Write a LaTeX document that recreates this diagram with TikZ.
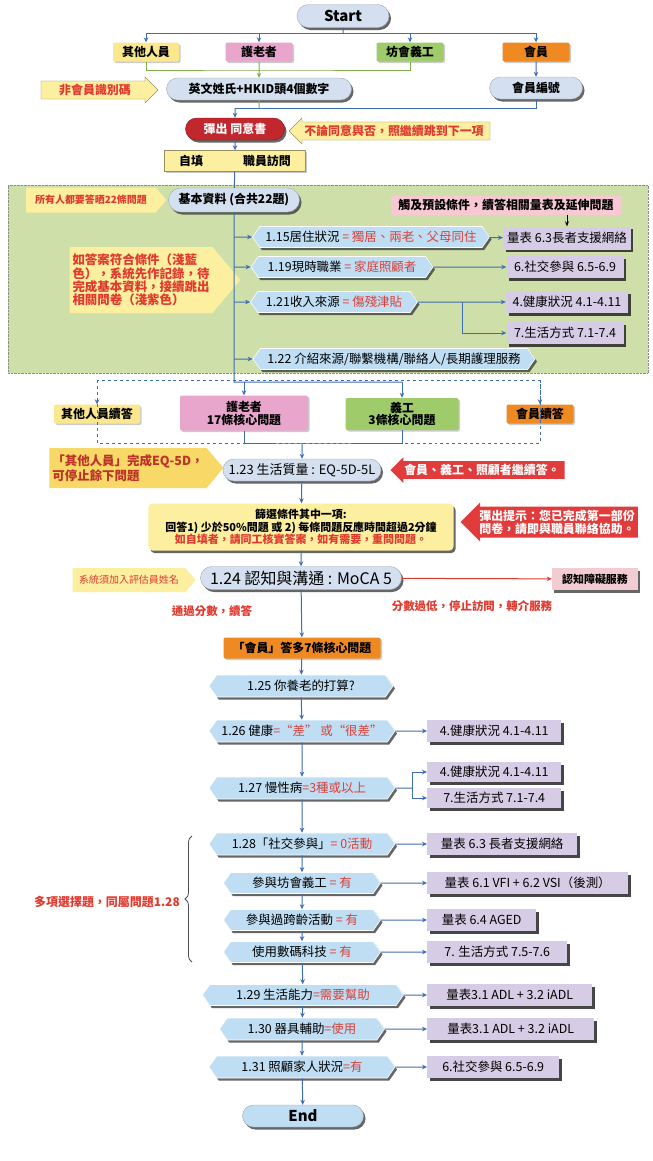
\documentclass[tikz,border=0pt]{standalone}
\usepackage{fontspec}
\setmainfont{Noto Sans CJK TC}
\usetikzlibrary{arrows.meta,positioning,calc,shapes.misc,shapes.symbols,shapes.arrows,shadows,decorations.pathreplacing}

\definecolor{pillblue}{HTML}{D4E0EF}
\definecolor{hexblue}{HTML}{BFDDF3}
\definecolor{lavender}{HTML}{D7CCE5}
\definecolor{roleyellow}{HTML}{FBE88E}
\definecolor{rolepink}{HTML}{E9A6CC}
\definecolor{rolegreen}{HTML}{9FCB6B}
\definecolor{roleorange}{HTML}{EF8A22}
\definecolor{noteyellow}{HTML}{FCEFA0}
\definecolor{notegold}{HTML}{F8D867}
\definecolor{notered}{HTML}{E03A2F}
\definecolor{alertred}{HTML}{E23B3B}
\definecolor{consentred}{HTML}{C1272D}
\definecolor{regiongreen}{HTML}{CFDFAA}
\definecolor{trigpink}{HTML}{F8C8D4}
\definecolor{cogpink}{HTML}{F3CBD2}
\definecolor{flowblue}{HTML}{3F6DB3}
\definecolor{linkgreen}{HTML}{7FAF4A}
\definecolor{valred}{HTML}{D8413A}

\newcommand{\qval}[1]{\textcolor{valred}{#1}}

\tikzset{
  shade/.style={drop shadow={shadow xshift=2bp,shadow yshift=-2.5bp,fill=black!80,opacity=.75}},
  pill/.style={rounded rectangle,fill=pillblue,draw=pillblue!75!black,line width=.4bp,shade,
    font=\bfseries\fontsize{12}{14}\selectfont,minimum height=22bp,inner sep=2bp},
  rolebox/.style={rectangle,rounded corners=2bp,minimum height=19bp,inner sep=2bp,
    font=\bfseries\fontsize{12}{14}\selectfont,
    drop shadow={shadow xshift=1.5bp,shadow yshift=-1.5bp,fill=black!40,opacity=.5}},
  hexq/.style={signal,signal to=east and west,signal pointer angle=110,fill=hexblue,
    draw=white,line width=.6bp,shade,minimum height=21bp,inner sep=2bp,
    font=\fontsize{12.5}{14}\selectfont},
  scalebox/.style={rectangle,fill=lavender,minimum height=22bp,inner xsep=4bp,
    font=\fontsize{12.5}{14}\selectfont,
    drop shadow={shadow xshift=2.5bp,shadow yshift=-2.5bp,fill=black!85,opacity=.85}},
  callsig/.style={signal,signal to=east,signal pointer angle=100,fill=noteyellow,
    text=notered,inner sep=3bp,font=\bfseries\fontsize{11}{13}\selectfont},
  callleft/.style={single arrow,shape border rotate=180,single arrow head extend=4bp,
    inner sep=3bp,font=\bfseries\fontsize{12}{14}\selectfont},
  callright/.style={single arrow,single arrow head extend=4bp,inner sep=3bp,
    fill=noteyellow,draw=noteyellow!60!black,line width=.4bp,text=notered,
    font=\bfseries\fontsize{12}{14}\selectfont},
  flowline/.style={draw=flowblue,line width=1bp},
  flowarrow/.style={flowline,-{Stealth[length=5bp,width=4.5bp]}},
  greenline/.style={draw=linkgreen,line width=1bp},
  dashline/.style={draw=flowblue,line width=.8bp,dashed},
  redtext/.style={text=notered,font=\bfseries\fontsize{11.5}{13}\selectfont},
}

\begin{document}
\begin{tikzpicture}[x=1bp,y=-1bp]
\useasboundingbox[fill=white] (0,0) rectangle (653,1161);

% start and the four kinds of respondent
\node[pill,font=\bfseries\fontsize{15}{17}\selectfont,minimum width=96bp,minimum height=23bp] (start) at (343,16) {Start};
\node[rolebox,fill=roleyellow,minimum width=66bp] (other) at (146,52) {其他人員};
\node[rolebox,fill=rolepink,minimum width=67bp] (carer) at (259,52) {護老者};
\node[rolebox,fill=rolegreen,minimum width=67bp] (volunteer) at (410,52) {坊會義工};
\node[rolebox,fill=roleorange,minimum width=67bp] (member) at (536,52) {會員};

\coordinate (topbus) at (343,33);
\draw[flowline] (start) -- (topbus);
\foreach \r in {other,carer,volunteer,member}
  \draw[flowarrow] (topbus) -| (\r);

% identification
\node[pill,minimum width=189bp] (hkid) at (259,89) {英文姓氏+HKID頭4個數字};
\node[callright,minimum height=117bp] (nonmember) at (95,90) {非會員識別碼};
\node[pill,minimum width=97bp] (memberno) at (536,88) {會員編號};

\coordinate (gbus) at (259,70);
\draw[greenline] (other) |- (gbus) -| (volunteer);
\draw[greenline,-{Stealth[length=5bp,width=4.5bp]}] (carer) -- (hkid);
\draw[flowarrow] (member) -- (memberno);

\coordinate (idbus) at (235,108);
\draw[flowline] (memberno) |- (idbus);
\draw[greenline] (hkid) -- (hkid |- idbus);

% consent
\node[pill,fill=consentred,draw=consentred!70!black,text=white,minimum width=103bp] (consent) at (235,129) {彈出 同意書};
\node[callleft,fill=noteyellow,draw=noteyellow!60!black,line width=.4bp,text=notered,minimum height=201bp] (consentnote) at (394,131) {不論同意與否，照繼續跳到下一項};
\node[rectangle,fill=noteyellow,draw=noteyellow!60!black,line width=.4bp,minimum width=141bp,minimum height=21bp,
  font=\bfseries\fontsize{12}{14}\selectfont,drop shadow={shadow xshift=1.5bp,shadow yshift=-1.5bp,fill=black!40,opacity=.5}] (mode) at (235,161) {自填\hspace{40bp}職員訪問};

\draw[flowarrow] (idbus) -- (consent);
\draw[flowarrow] (consent) -- (mode);

% basic information block
\node[rectangle,fill=regiongreen,draw=black!45,densely dotted,minimum width=640bp,minimum height=188bp] (basicarea) at (328,279) {};
\node[callsig,minimum width=140bp,minimum height=25bp,font=\bfseries\fontsize{10}{12}\selectfont] (allq) at (91,200) {所有人都要答晒22條問題};
\node[pill,minimum width=135bp,minimum height=24bp] (basic) at (234,200) {基本資料 (合共22題)};
\node[rectangle,fill=trigpink,minimum width=230bp,minimum height=19bp,font=\bfseries\fontsize{12}{14}\selectfont] (trigger) at (506,205) {觸及預設條件，續答相關量表及延伸問題};
\node[callsig,minimum width=153bp,minimum height=66bp,align=left,font=\bfseries\fontsize{12.5}{13.5}\selectfont] (condnote) at (141,280)
  {如答案符合條件（淺藍\\色），系統先作記錄，待\\完成基本資料，接續跳出\\相關問卷（淺紫色）};

\node[hexq,minimum width=237bp] (q115) at (371,237) {1.15居住狀況 \qval{= 獨居、兩老、父母同住}};
\node[scalebox,minimum width=127bp,minimum height=23bp] (s63a) at (567,238) {量表 6.3長者支援網絡};
\node[hexq,minimum width=182bp] (q119) at (342,267) {1.19現時職業 \qval{= 家庭照顧者}};
\node[scalebox,minimum width=117bp] (s6a) at (565,267) {6.社交參與 6.5-6.9};
\node[hexq,minimum width=167bp] (q121) at (334,302) {1.21收入來源 \qval{= 傷殘津貼}};
\node[scalebox,minimum width=122bp] (s4a) at (567,302) {4.健康狀況 4.1-4.11};
\node[scalebox,minimum width=117bp] (s7a) at (565,333) {7.生活方式 7.1-7.4};
\node[hexq,minimum width=282bp] (q122) at (394,359) {1.22 介紹來源/聯繫機構/聯絡人/長期護理服務};

\draw[flowline] (mode) -- (basic);
\foreach \q in {q115,q119,q121,q122}
  \draw[flowarrow] (basic.south |- \q) -- (\q);
\draw[flowarrow] (q115) -- (s63a);
\draw[flowarrow] (q119) -- (s6a);
\draw[flowarrow] (q121) -- (s4a);
\coordinate (incomebr) at (462,302);
\draw[flowarrow] (incomebr) |- (s7a);
\draw[-{Stealth[length=5bp,width=4bp]},line width=.8bp] (trigger.south -| s63a) -- (s63a);

% respondent groups
\node[rolebox,fill=roleyellow,minimum width=86bp] (other2) at (97,414) {其他人員續答};
\node[rolebox,fill=rolepink,minimum width=128bp,minimum height=35bp,align=center,
  font=\bfseries\fontsize{12}{13}\selectfont] (carer2) at (244,413) {護老者\\17條核心問題};
\node[rolebox,fill=rolegreen,minimum width=113bp,minimum height=32bp,align=center,
  font=\bfseries\fontsize{12}{13}\selectfont] (volunteer2) at (402,414) {義工\\3條核心問題};
\node[rolebox,fill=roleorange,minimum width=67bp] (member2) at (540,414) {會員續答};

\coordinate (mainbus) at (234,382);
\coordinate (dtl) at (97,380);
\coordinate (dbr) at (540,443);
\draw[dashline] (dtl) rectangle (dbr);
\draw[dashline,-{Stealth[length=5bp,width=4.5bp]}] (dtl) -- (other2);
\draw[dashline,-{Stealth[length=5bp,width=4.5bp]}] (dbr |- dtl) -- (member2);
\draw[flowline] (basic) -- (mainbus) -- (mainbus -| volunteer2);
\draw[flowarrow] (mainbus -| carer2) -- (carer2);
\draw[flowarrow] (mainbus -| volunteer2) -- (volunteer2);

\coordinate (join) at (302,443);
\draw[flowline] (carer2) |- (join) -| (volunteer2);

% quality of life and screening
\node[pill,font=\fontsize{13}{15}\selectfont,minimum width=162bp] (q123) at (302,470) {1.23 生活質量 : EQ-5D-5L};
\node[callsig,fill=notegold,minimum width=173bp,minimum height=40bp,align=left,text=notered!85!black,
  font=\bfseries\fontsize{12.5}{13.5}\selectfont] (eqnote) at (128,468) {「其他人員」完成EQ-5D，\\可停止餘下問題};
\node[callleft,fill=alertred,text=white,minimum height=174bp] (contnote) at (482,470) {會員、義工、照顧者繼續答。};
\node[rectangle,rounded corners=4bp,fill=noteyellow,shade,minimum width=305bp,minimum height=47bp,align=center,
  font=\bfseries\fontsize{11}{12.5}\selectfont] (screen) at (301,527)
  {篩選條件其中一項:\\回答1) 少於50\%問題 或 2) 每條問題反應時間超過2分鐘\\\textcolor{notered}{如自填者，請同工核實答案，如有需要，重問問題。}};
\node[callleft,fill=alertred,text=white,minimum height=167bp,align=left,
  font=\bfseries\fontsize{12}{13}\selectfont] (popnote) at (557,522) {彈出提示：您已完成第一部份\\問卷，請即與職員聯絡協助。};

\draw[flowarrow] (join) -- (q123);
\draw[flowarrow] (q123) -- (screen);

% cognition
\node[pill,font=\fontsize{16}{18}\selectfont,minimum width=205bp,minimum height=23bp] (q124) at (301,578) {1.24 認知與溝通 : MoCA 5};
\node[callsig,minimum width=123bp,minimum height=24bp,font=\fontsize{10}{12}\selectfont] (assessor) at (129,580) {系統須加入評估員姓名};
\node[rectangle,fill=cogpink,minimum width=86bp,minimum height=22bp,shade,font=\bfseries\fontsize{11}{13}\selectfont] (cogsvc) at (595,579) {認知障礙服務};
\node[redtext] (passlbl) at (212,611) {通過分數，續答};
\node[redtext] (faillbl) at (472,606) {分數過低，停止訪問，轉介服務};

\draw[flowarrow] (screen) -- (q124);
\draw[draw=notered,line width=1bp,-{Stealth[length=5bp,width=4.5bp]}] (q124) -- (cogsvc);

% member core questions
\node[rolebox,fill=roleorange,minimum width=157bp,minimum height=21bp] (memcore) at (302,648) {「會員」答多7條核心問題};
\node[hexq,minimum width=184bp,minimum height=22bp] (q125) at (301,686) {1.25 你養老的打算?};
\node[hexq,minimum width=186bp,minimum height=22bp] (q126) at (302,731) {1.26 健康\qval{=“差” 或“很差”}};
\node[hexq,minimum width=186bp,minimum height=22bp] (q127) at (302,788) {1.27 慢性病\qval{=3種或以上}};
\node[hexq,minimum width=186bp,minimum height=22bp] (q128) at (302,844) {1.28「社交參與」\qval{= 0活動}};
\node[hexq,minimum width=157bp] (q128a) at (302,883) {參與坊會義工 \qval{= 有}};
\node[hexq,minimum width=157bp] (q128b) at (302,920) {參與過跨齡活動 \qval{= 有}};
\node[hexq,minimum width=157bp] (q128c) at (302,952) {使用數碼科技 \qval{= 有}};
\node[hexq,minimum width=201bp] (q129) at (303,995) {1.29 生活能力\qval{=需要幫助}};
\node[hexq,minimum width=165bp,minimum height=22bp] (q130) at (302,1029) {1.30 器具輔助\qval{=使用}};
\node[hexq,minimum width=186bp,minimum height=22bp] (q131) at (302,1067) {1.31 照顧家人狀況\qval{=有}};
\node[pill,font=\bfseries\fontsize{15}{17}\selectfont,fill=hexblue,minimum width=125bp,minimum height=22bp] (finish) at (303,1116) {End};

\node[scalebox,anchor=west,minimum width=134bp] (s4b) at (427,731) {4.健康狀況 4.1-4.11};
\node[scalebox,anchor=west,minimum width=134bp,minimum height=20bp] (s4c) at (427,772) {4.健康狀況 4.1-4.11};
\node[scalebox,anchor=west,minimum width=134bp,minimum height=20bp] (s7c) at (427,798) {7.生活方式 7.1-7.4};
\node[scalebox,anchor=west,minimum width=150bp] (s63b) at (427,844) {量表 6.3 長者支援網絡};
\node[scalebox,anchor=west,minimum width=201bp] (s61) at (427,883) {量表 6.1 VFI + 6.2 VSI（後測）};
\node[scalebox,anchor=west,minimum width=109bp] (s64) at (427,920) {量表 6.4 AGED};
\node[scalebox,anchor=west,minimum width=140bp] (s7d) at (427,952) {7. 生活方式 7.5-7.6};
\node[scalebox,anchor=west,minimum width=165bp] (sadla) at (427,995) {量表3.1 ADL + 3.2 iADL};
\node[scalebox,anchor=west,minimum width=167bp] (sadlb) at (427,1029) {量表3.1 ADL + 3.2 iADL};
\node[scalebox,anchor=west,minimum width=132bp] (s6b) at (427,1067) {6.社交參與 6.5-6.9};

\draw[flowarrow] (q124) -- (memcore);
\draw[flowarrow] (memcore) -- (q125);
\foreach \a/\b in {q125/q126,q126/q127,q127/q128,q128/q128a,q128a/q128b,q128b/q128c,q128c/q129,q129/q130,q130/q131,q131/finish}
  \draw[flowarrow] (\a) -- (\b);
\foreach \a/\b in {q126/s4b,q128/s63b,q128a/s61,q128b/s64,q128c/s7d,q129/sadla,q130/sadlb,q131/s6b}
  \draw[flowarrow] (\a) -- (\b);
\coordinate (chronicbr) at (412,788);
\draw[flowline] (q127) -- (chronicbr);
\draw[flowarrow] (chronicbr) |- (s4c);
\draw[flowarrow] (chronicbr) |- (s7c);

% multiple choice brace
\coordinate (bracelo) at (192,962);
\coordinate (bracehi) at (192,836);
\draw[decorate,decoration={brace,amplitude=7bp},draw=black!70,line width=.8bp] (bracelo) -- (bracehi);
\node[redtext,font=\bfseries\fontsize{12}{14}\selectfont] (multiq) at (107,902) {多項選擇題，同屬問題1.28};

\end{tikzpicture}
\end{document}
